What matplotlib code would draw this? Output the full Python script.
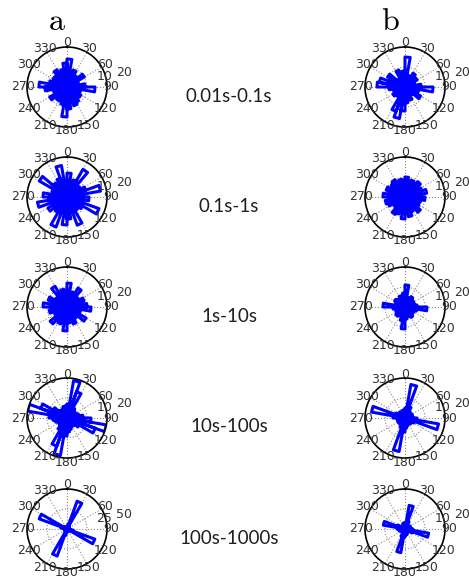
import matplotlib.pyplot as plt
import numpy as np

# rose histograms, 36 bins of 10 deg starting at north, clockwise
counts_a = [
    [14, 6, 9, 5, 7, 10, 6, 5, 9, 14, 7, 5, 8, 4, 9, 10, 6, 11,
     15, 9, 6, 8, 5, 10, 6, 7, 11, 14, 9, 5, 8, 6, 10, 7, 9, 12],
    [12, 7, 9, 16, 6, 8, 10, 17, 7, 11, 6, 17, 9, 6, 8, 15, 7, 11,
     14, 7, 16, 9, 6, 11, 8, 15, 9, 12, 6, 8, 16, 9, 7, 10, 16, 8],
    [12, 5, 8, 11, 5, 7, 9, 5, 10, 12, 7, 5, 11, 5, 7, 9, 5, 8,
     12, 6, 9, 5, 11, 7, 5, 9, 6, 12, 5, 10, 7, 5, 12, 7, 9, 6],
    [7, 19, 14, 6, 5, 4, 5, 6, 8, 12, 20, 15, 7, 5, 4, 5, 6, 7,
     9, 19, 15, 7, 5, 4, 5, 6, 7, 9, 20, 14, 8, 5, 4, 5, 6, 6],
    [3, 6, 37, 5, 2, 2, 2, 3, 2, 4, 8, 37, 4, 2, 2, 2, 2, 3,
     4, 8, 36, 4, 2, 2, 2, 2, 3, 4, 8, 37, 5, 2, 2, 2, 2, 3],
]
counts_b = [
    [15, 6, 5, 8, 5, 7, 5, 4, 8, 14, 7, 5, 9, 5, 4, 7, 5, 8,
     12, 16, 13, 6, 4, 7, 5, 6, 8, 14, 13, 6, 10, 5, 4, 9, 6, 8],
    [10, 7, 9, 6, 10, 7, 9, 11, 7, 10, 8, 6, 8, 10, 7, 8, 10, 8,
     11, 7, 9, 10, 7, 6, 9, 10, 7, 11, 8, 10, 7, 9, 10, 6, 9, 7],
    [11, 5, 4, 6, 4, 5, 4, 5, 6, 11, 6, 4, 5, 4, 6, 5, 4, 6,
     11, 7, 5, 4, 6, 4, 5, 4, 6, 11, 5, 4, 6, 5, 4, 6, 5, 7],
    [5, 17, 6, 4, 3, 3, 4, 3, 4, 6, 17, 5, 3, 4, 3, 3, 4, 5,
     7, 17, 5, 3, 4, 3, 4, 3, 4, 6, 17, 5, 3, 4, 3, 3, 4, 4],
    [3, 12, 4, 2, 2, 2, 3, 2, 3, 4, 12, 4, 2, 2, 2, 2, 3, 3,
     4, 12, 4, 2, 2, 2, 2, 3, 3, 4, 11, 4, 2, 2, 2, 2, 3, 3],
]
rmax_a = [20, 20, 20, 20, 50]
rmax_b = [20, 20, 20, 20, 20]
ranges = ['0.01s-0.1s', '0.1s-1s', '1s-10s', '10s-100s', '100s-1000s']
angle_labels = ['0', '30', '60', '90', '120', '150',
                '180', '210', '240', '270', '300', '330']

W, H = 469, 576
fig = plt.figure(figsize=(W / 100, H / 100), dpi=100)

col_x = [67, 405]
row_y = [87, 197, 307, 418, 529]
R = 40


def rose(cx, cy, counts, rmax):
    ax = fig.add_axes([(cx - R) / W, (H - cy - R) / H, 2 * R / W, 2 * R / H],
                      projection='polar')
    ax.set_theta_zero_location('N')
    ax.set_theta_direction(-1)
    ax.set_ylim(0, rmax)
    ax.set_thetagrids(range(0, 360, 30), labels=[])
    ax.set_rgrids([rmax / 2], labels=[''])
    ax.grid(color='0.55', ls=':', lw=0.8)
    ax.spines['polar'].set_color('black')
    ax.spines['polar'].set_linewidth(1.2)
    ax.tick_params(length=0)

    w = np.deg2rad(10)
    th, rr = [], []
    for i, c in enumerate(counts):
        e = i * w
        th += [0, e, e + w, 0, np.nan]
        rr += [0, c, c, 0, np.nan]
    ax.plot(th, rr, color='blue', lw=2.2)

    for k, lab in enumerate(angle_labels):
        ax.text(np.deg2rad(30 * k), 1.1 * rmax, lab, ha='center', va='center',
                fontsize=9, color='0.2', clip_on=False)
    ax.text(np.deg2rad(75), 0.97 * rmax, str(rmax // 2), ha='center',
            va='center', fontsize=9, color='0.2', clip_on=False)
    ax.text(np.deg2rad(76), 1.47 * rmax, str(rmax), ha='center',
            va='center', fontsize=9, color='0.2', clip_on=False)
    return ax


for i in range(5):
    rose(col_x[0], row_y[i], counts_a[i], rmax_a[i])
    rose(col_x[1], row_y[i], counts_b[i], rmax_b[i])
    fig.text(229 / W, 1 - (row_y[i] + 9) / H, ranges[i], ha='center',
             va='center', fontsize=13.5, family='Lato', color='0.12')

plt.rcParams['mathtext.fontset'] = 'cm'
fig.text(57 / W, 1 - 22 / H, r'$\mathrm{a}$', ha='center', va='center', fontsize=23)
fig.text(390 / W, 1 - 22 / H, r'$\mathrm{b}$', ha='center', va='center', fontsize=23)

fig.savefig('out.png', dpi=100)
